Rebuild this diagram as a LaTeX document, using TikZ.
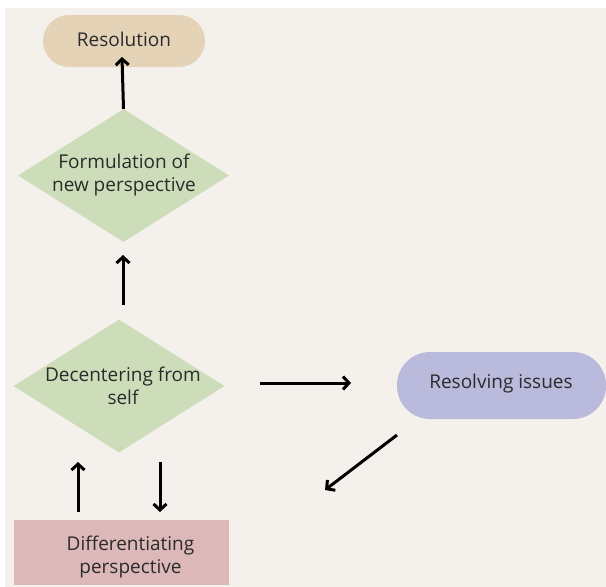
\documentclass[tikz,border=0pt]{standalone}
\usepackage{fontspec}
\setmainfont{Open Sans}
\usetikzlibrary{arrows.meta,shapes.geometric,calc}
\definecolor{bgc}{HTML}{F4F1EC}
\definecolor{resc}{HTML}{E5D3B8}
\definecolor{grc}{HTML}{CEDDB9}
\definecolor{puc}{HTML}{B9BADC}
\definecolor{pkc}{HTML}{DDB8B8}
\definecolor{txc}{HTML}{2B2B2B}
\tikzset{
  lbl/.style={text=txc,font=\fontsize{19}{23}\selectfont,align=center,inner sep=0pt},
  pill/.style={rounded corners=26pt,inner sep=0pt},
  diam/.style={diamond,fill=grc,inner sep=0pt,minimum width=211pt,minimum height=133pt},
  conn/.style={line width=3pt,-{Straight Barb[length=6pt,width=13pt,line width=3pt]}},
}
\begin{document}
\begin{tikzpicture}[x=1pt,y=-1pt]
\useasboundingbox (0,0) rectangle (606,587);
\fill[white] (0,0) rectangle (606,587);
\fill[bgc] (5,8) rectangle (606,587);
\node[pill,fill=resc,minimum width=162pt,minimum height=52pt] (res) at (124,41) {};
\node[lbl] (t0) at (124,39) {Resolution};
\node[diam] (d1) at (123.5,175.5) {};
\node[lbl] (t1) at (124,175) {Formulation of\\new perspective};
\node[diam] (d2) at (119,386) {};
\node[lbl] (t2) at (123,386) {Decentering from\\self};
\node[pill,fill=puc,minimum width=209pt,minimum height=67pt,rounded corners=33pt] (ri) at (501.5,385.5) {};
\node[lbl] (t3) at (501,384) {Resolving issues};
\node[fill=pkc,minimum width=215pt,minimum height=65pt,inner sep=0pt] (dp) at (121.5,552.5) {};
\node[lbl] (t4) at (130.5,557) {Differentiating\\perspective};
\coordinate (a1e) at (122,57);
\coordinate (a2s) at (123,305);
\coordinate (a2e) at (123,255);
\coordinate (a3s) at (260,383);
\coordinate (a3e) at (351,383);
\coordinate (a4s) at (397,435);
\coordinate (a4e) at (325,490);
\coordinate (a5s) at (78,512);
\coordinate (a5e) at (78,462);
\coordinate (a6s) at (160,462);
\coordinate (a6e) at (160,512);
\draw[conn] (d1.north) -- (a1e);
\draw[conn] (a2s) -- (a2e);
\draw[conn] (a3s) -- (a3e);
\draw[conn] (a4s) -- (a4e);
\draw[conn] (a5s) -- (a5e);
\draw[conn] (a6s) -- (a6e);
\end{tikzpicture}
\end{document}
